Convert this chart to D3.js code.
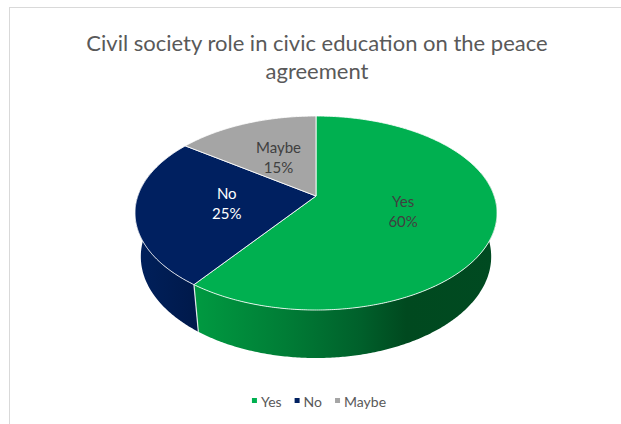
<!DOCTYPE html>
<html>
<head>
<meta charset="utf-8">
<script src="https://cdn.jsdelivr.net/npm/d3@7"></script>
<style>
  html, body { margin: 0; padding: 0; background: #fff; }
  svg { display: block; font-family: Lato, "Open Sans", sans-serif; }
</style>
</head>
<body>
<svg id="chart" width="621" height="424"></svg>
<script>
// Survey answers and their shares (percent)
const categories = ["Yes", "No", "Maybe"];
const shares = [60, 25, 15];
const shareLabels = ["60%", "25%", "15%"];
const titleLines = ["Civil society role in civic education on the peace", "agreement"];

// Slice colours: top face and the gradient stops for the rim
const topColors = ["#00B050", "#002060", "#A5A5A5"];
const rimStops = [
  [["0%", "#009a41"], ["30%", "#007d36"], ["55%", "#00602b"], ["70%", "#00491f"], ["100%", "#004a21"]],
  [["0%", "#00205c"], ["100%", "#00194a"]],
  [["0%", "#8c8c8c"], ["100%", "#6e6e6e"]]
];

const svg = d3.select("#chart");

// chart frame
svg.append("rect").attr("x", 9.5).attr("y", 7.5).attr("width", 620).attr("height", 420)
  .attr("fill", "#fff").attr("stroke", "#d9d9d9").attr("stroke-width", 1);

// title
svg.append("g").selectAll("text").data(titleLines).join("text")
  .attr("x", 317).attr("y", (d, i) => 51 + i * 28)
  .attr("text-anchor", "middle").attr("fill", "#595959")
  .style("font-size", "22px").text(d => d);

// --- perspective projection of a tilted disk (3D pie) ---
const cx = 316, cy = 196;          // screen position of the disk centre
const sinA = 0.5276, cosA = Math.sqrt(1 - sinA * sinA); // viewing elevation
const D = 4.845, F = 863.4;        // camera distance and focal length (radius = 1)
const depth = 0.296;               // thickness of the pie

// theta: clockwise from the far (12 o'clock) point; u: 0 on top, -depth at bottom; r: radial fraction
function project(theta, u, r = 1) {
  const x = r * Math.sin(theta), v = -r * Math.cos(theta);
  const Y = -u * cosA + v * sinA;
  const Z = D - u * sinA - v * cosA;
  return [cx + F * x / Z, cy + F * Y / Z];
}
function arcPoints(a0, a1, u) {
  const n = Math.max(2, Math.ceil(Math.abs(a1 - a0) / 0.01));
  return d3.range(n + 1).map(i => project(a0 + (a1 - a0) * i / n, u));
}
const line = d3.line().curve(d3.curveLinear);

const pie = d3.pie().sort(null).value(d => d);
const arcs = pie(shares);

const defs = svg.append("defs");
arcs.forEach((a, i) => {
  const g = defs.append("linearGradient").attr("id", "rim" + i)
    .attr("x1", "0%").attr("x2", "100%").attr("y1", "0%").attr("y2", "0%");
  rimStops[i].forEach(s => g.append("stop").attr("offset", s[0]).attr("stop-color", s[1]));
});

// visible part of the outer rim (front side)
const frontA0 = 75 * Math.PI / 180, frontA1 = 285 * Math.PI / 180;
const rimG = svg.append("g");
arcs.forEach((a, i) => {
  const s = Math.max(a.startAngle, frontA0), e = Math.min(a.endAngle, frontA1);
  if (e <= s) return;
  const pts = arcPoints(s, e, 0).concat(arcPoints(e, s, -depth));
  rimG.append("path").attr("d", line(pts) + "Z")
    .attr("fill", `url(#rim${i})`);
});
// seams between slices on the rim
arcs.forEach(a => {
  const t = a.endAngle;
  if (t > frontA0 + 0.3 && t < frontA1 - 0.3) {
    rimG.append("path").attr("d", line([project(t, 0), project(t, -depth)]))
      .attr("stroke", "#ffffff").attr("stroke-opacity", 0.85).attr("stroke-width", 1.2);
  }
});

// top faces
const topG = svg.append("g");
arcs.forEach((a, i) => {
  const pts = [project(0, 0, 0)].concat(arcPoints(a.startAngle, a.endAngle, 0));
  topG.append("path").attr("d", line(pts) + "Z")
    .attr("fill", topColors[i]).attr("stroke", "#ffffff").attr("stroke-opacity", 0.85)
    .attr("stroke-width", 1).attr("stroke-linejoin", "round");
});

// data labels
const labelColors = ["#404040", "#ffffff", "#404040"];
arcs.forEach((a, i) => {
  const mid = (a.startAngle + a.endAngle) / 2;
  const [lx, ly] = project(mid, 0, 0.5);
  const t = svg.append("text").attr("text-anchor", "middle")
    .attr("fill", labelColors[i]).style("font-size", "15px");
  t.append("tspan").attr("x", lx).attr("y", ly - 4).text(categories[i]);
  t.append("tspan").attr("x", lx).attr("y", ly + 16).text(shareLabels[i]);
});

// legend
const legend = svg.append("g");
let lxPos = 0;
categories.forEach((c, i) => {
  const g = legend.append("g");
  g.append("rect").attr("x", 0).attr("y", -9).attr("width", 5).attr("height", 5).attr("fill", topColors[i]);
  const t = g.append("text").attr("x", 9).attr("y", 0).attr("fill", "#595959")
    .style("font-size", "14px").text(c);
  const w = 9 + t.node().getComputedTextLength();
  g.attr("transform", `translate(${lxPos},0)`);
  lxPos += w + 13;
});
const legendW = lxPos - 13;
legend.attr("transform", `translate(${319 - legendW / 2},407)`);
</script>
</body>
</html>
